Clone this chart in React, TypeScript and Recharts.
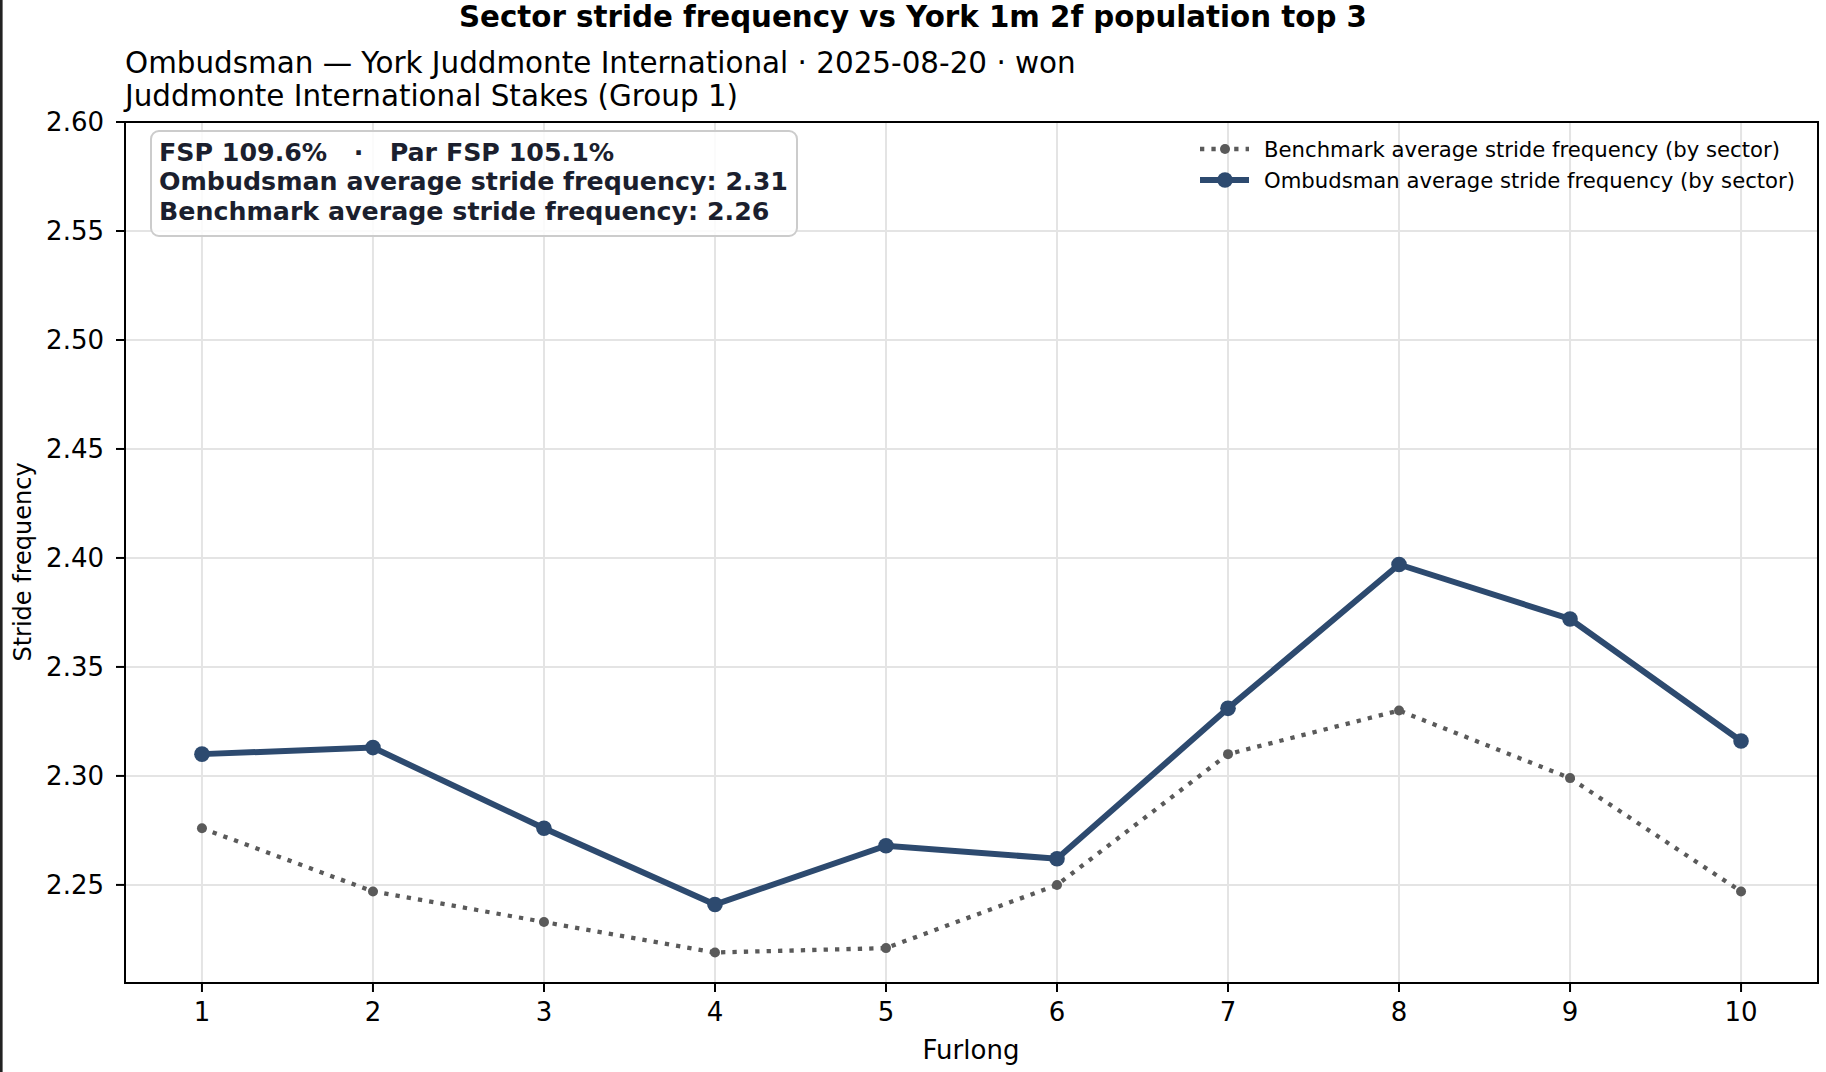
import React from 'react';
import { LineChart, Line, XAxis, YAxis, CartesianGrid, ReferenceArea, Legend } from 'recharts';

// ---------- data ----------
const FURLONGS = [1, 2, 3, 4, 5, 6, 7, 8, 9, 10];
const OMBUDSMAN_SF = [2.31, 2.313, 2.276, 2.241, 2.268, 2.262, 2.331, 2.397, 2.372, 2.316];
const BENCHMARK_SF = [2.276, 2.247, 2.233, 2.219, 2.221, 2.25, 2.31, 2.33, 2.299, 2.247];
const X_TICKS = [1, 2, 3, 4, 5, 6, 7, 8, 9, 10];
const Y_TICKS = [2.25, 2.3, 2.35, 2.4, 2.45, 2.5, 2.55, 2.6];
const X_DOMAIN: [number, number] = [0.55, 10.45];
const Y_DOMAIN: [number, number] = [2.205, 2.6];

const TITLE = 'Sector stride frequency vs York 1m 2f population top 3';
const SUBTITLE_LINES = [
  'Ombudsman \u2014 York Juddmonte International \u00b7 2025-08-20 \u00b7 won',
  'Juddmonte International Stakes (Group 1)',
];
const ANNOTATION_LINES = [
  'FSP 109.6%   \u00b7   Par FSP 105.1%',
  'Ombudsman average stride frequency: 2.31',
  'Benchmark average stride frequency: 2.26',
];
const X_LABEL = 'Furlong';
const Y_LABEL = 'Stride frequency';
const BENCHMARK_NAME = 'Benchmark average stride frequency (by sector)';
const OMBUDSMAN_NAME = 'Ombudsman average stride frequency (by sector)';

const tableData = FURLONGS.map((f, i) => ({
  furlong: f,
  benchmark: BENCHMARK_SF[i],
  ombudsman: OMBUDSMAN_SF[i],
}));

// ---------- styles ----------
const FONT = '"DejaVu Sans", sans-serif';
const BLUE = '#2d4a6f';
const GREY = '#5a5a5a';

const STYLE_BY_KEY: Record<string, any> = {
  benchmark: { stroke: GREY, width: 4.3, dash: '4.3 7.1', r: 5 },
  ombudsman: { stroke: BLUE, width: 6, dash: undefined, r: 7.8 },
};

const renderLegend = (props: any) => {
  const payload = props.payload || [];
  return (
    <svg width={640} height={72} style={{ overflow: 'visible', display: 'block' }}>
      {payload.map((p: any, i: number) => {
        const st = STYLE_BY_KEY[p.dataKey] || STYLE_BY_KEY.ombudsman;
        const cy = 24 + i * 31;
        return (
          <g key={String(p.dataKey)}>
            <line
              x1={10}
              x2={59}
              y1={cy}
              y2={cy}
              stroke={st.stroke}
              strokeWidth={st.width}
              strokeDasharray={st.dash}
            />
            <circle cx={35} cy={cy} r={st.r} fill={st.stroke} />
            <text x={74} y={cy + 7.6} fontSize={21.2} fontFamily={FONT} fill="#000">
              {p.value}
            </text>
          </g>
        );
      })}
    </svg>
  );
};

export default function App() {
  return (
    <div
      style={{
        position: 'absolute',
        left: 0,
        top: 0,
        width: 1826,
        height: 1072,
        background: '#fff',
        overflow: 'hidden',
      }}
    >
      <LineChart
        width={1826}
        height={1072}
        data={tableData}
        margin={{ top: 122, right: 8, bottom: 29, left: 45 }}
        style={{ fontFamily: FONT }}
      >
        <CartesianGrid stroke="#e4e4e4" strokeWidth={2} horizontal vertical />
        <XAxis
          dataKey="furlong"
          type="number"
          domain={X_DOMAIN}
          ticks={X_TICKS}
          allowDataOverflow
          height={60}
          axisLine={false}
          tickLine={{ stroke: '#000', strokeWidth: 2 }}
          tickSize={9}
          tickMargin={11}
          tick={{ fontSize: 26, fill: '#000', fontFamily: FONT }}
          interval={0}
        />
        <YAxis
          type="number"
          domain={Y_DOMAIN}
          ticks={Y_TICKS}
          allowDataOverflow
          width={80}
          axisLine={false}
          tickLine={{ stroke: '#000', strokeWidth: 2 }}
          tickSize={9}
          tickMargin={12}
          tick={{ fontSize: 26, fill: '#000', fontFamily: FONT }}
          tickFormatter={(v: number) => v.toFixed(2)}
          interval={0}
        />
        <ReferenceArea
          x1={X_DOMAIN[0]}
          x2={X_DOMAIN[1]}
          y1={Y_DOMAIN[0]}
          y2={Y_DOMAIN[1]}
          fill="none"
          fillOpacity={0}
          stroke="#000"
          strokeWidth={2}
          ifOverflow="visible"
        />
        <Legend
          layout="horizontal"
          verticalAlign="middle"
          align="center"
          content={renderLegend}
          wrapperStyle={{ position: 'absolute', left: 1190, top: 125, width: 640, height: 72 }}
        />
        <Line
          type="linear"
          dataKey="benchmark"
          name={BENCHMARK_NAME}
          stroke={GREY}
          strokeWidth={4.3}
          strokeDasharray="4.3 7.1"
          dot={{ r: 5, fill: GREY, stroke: GREY, strokeWidth: 0, strokeDasharray: '' }}
          activeDot={false}
          isAnimationActive={false}
        />
        <Line
          type="linear"
          dataKey="ombudsman"
          name={OMBUDSMAN_NAME}
          stroke={BLUE}
          strokeWidth={6}
          dot={{ r: 7.8, fill: BLUE, stroke: BLUE, strokeWidth: 0 }}
          activeDot={false}
          isAnimationActive={false}
        />
      </LineChart>

      <svg
        width={1826}
        height={1072}
        style={{ position: 'absolute', left: 0, top: 0, pointerEvents: 'none' }}
      >
        <rect x={0} y={0} width={2.6} height={1072} fill="#222" />
        <text x={913} y={27} textAnchor="middle" fontSize={29.3} fontWeight="bold" fontFamily={FONT} fill="#000">
          {TITLE}
        </text>
        {SUBTITLE_LINES.map((s, i) => (
          <text key={i} x={125} y={73 + i * 32.5} fontSize={29.4} fontFamily={FONT} fill="#000">
            {s}
          </text>
        ))}
        <text x={971} y={1059} textAnchor="middle" fontSize={26} fontFamily={FONT} fill="#000">
          {X_LABEL}
        </text>
        <text
          x={31}
          y={562}
          textAnchor="middle"
          fontSize={24}
          fontFamily={FONT}
          fill="#000"
          transform="rotate(-90 31 562)"
        >
          {Y_LABEL}
        </text>
      </svg>

      <div
        style={{
          position: 'absolute',
          left: 150,
          top: 130,
          border: '2px solid #cccccc',
          borderRadius: 9,
          background: 'rgba(255,255,255,0.85)',
          padding: '5.5px 8px 8.5px 7px',
          fontFamily: FONT,
          fontWeight: 'bold',
          fontSize: 25.3,
          lineHeight: '29.5px',
          color: '#1b1f2e',
          whiteSpace: 'pre',
        }}
      >
        {ANNOTATION_LINES.map((l, i) => (
          <div key={i}>{l}</div>
        ))}
      </div>
    </div>
  );
}
